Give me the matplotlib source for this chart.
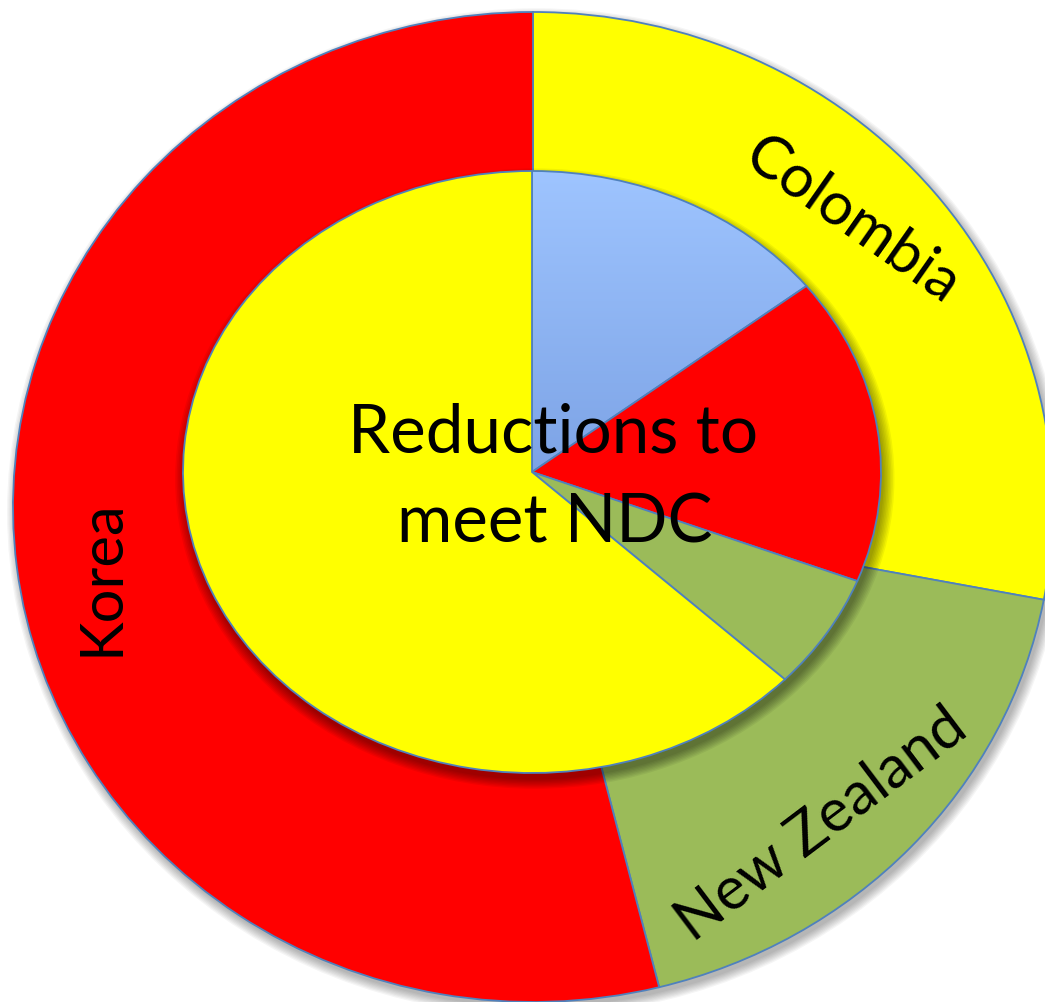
import numpy as np
import matplotlib.pyplot as plt
from matplotlib.patches import Ellipse

plt.rcParams['font.family'] = ['Lato', 'DejaVu Sans']

# outer ring: country shares
countries = ['Colombia', 'New Zealand', 'Korea']
country_share = [28.0, 18.1, 53.9]
country_colors = ['#FFFF00', '#9BBB59', '#FF0000']

# inner pie: reductions to meet NDC
inner_share = [14.4, 16.5, 6.2, 62.9]
inner_colors = ['#95BCF9', '#FF0000', '#9BBB59', '#FFFF00']

center_lines = ['Reductions to', 'meet NDC']

W, H = 1045, 1002
fig = plt.figure(figsize=(W / 100, H / 100), dpi=100)
fig.patch.set_facecolor('white')


def place(cx, cy, rx, ry, pad=1.08):
    # axes whose unit circle lands on the given pixel ellipse
    ax = fig.add_axes([(cx - rx * pad) / W, (H - cy - ry * pad) / H,
                       2 * rx * pad / W, 2 * ry * pad / H])
    ax.axis('off')
    ax.patch.set_alpha(0)
    return ax


def fix_limits(ax, pad=1.08):
    ax.set_xlim(-pad, pad)
    ax.set_ylim(-pad, pad)
    ax.set_aspect('auto')


def soft_shadow(ax, dx, dy, steps=8, spread=0.035, alpha=0.05):
    for i in range(steps):
        r = 1.0 + spread * i / steps
        ax.add_patch(Ellipse((dx, dy), 2 * r, 2 * r, color='black',
                             alpha=alpha, lw=0, zorder=0))


edge = dict(edgecolor='#4F81BD', linewidth=1.3)

# outer ring
ax_out = place(533, 507, 520, 495)
soft_shadow(ax_out, 0.006, -0.01, spread=0.02, alpha=0.04)
ax_out.pie(country_share, colors=country_colors, startangle=90,
           counterclock=False, radius=1, wedgeprops=edge)
fix_limits(ax_out)

label_pos = {'Colombia': (0.612, 0.580, -35),
             'New Zealand': (0.554, -0.642, 37),
             'Korea': (-0.829, -0.143, 90)}
for name in countries:
    x, y, rot = label_pos[name]
    ax_out.text(x, y, name, fontsize=43, rotation=rot, ha='center',
                va='center', rotation_mode='anchor', color='black', zorder=5)

# inner pie
ax_in = place(532, 472, 349, 301)
soft_shadow(ax_in, 0.008, -0.022, spread=0.035, alpha=0.055)
wedges, _ = ax_in.pie(inner_share, colors=inner_colors, startangle=90,
                      counterclock=False, radius=1, wedgeprops=edge)
fix_limits(ax_in)

# vertical gradient on the blue slice, drawn under its outline
blue = wedges[0]
grad = np.linspace(0, 1, 256).reshape(-1, 1)
light = np.array([0.62, 0.77, 1.0])
dark = np.array([0.49, 0.64, 0.90])
img = light[None, None, :] * (1 - grad[:, :, None]) + dark[None, None, :] * grad[:, :, None]
im = ax_in.imshow(img, extent=(0, 1, 0, 1), origin='upper',
                  aspect='auto', zorder=blue.get_zorder() - 0.01)
im.set_clip_path(blue)
blue.set_facecolor('none')
fix_limits(ax_in)

ax_in.text(0.06, 0.066, center_lines[0], fontsize=48.5, ha='center',
           va='baseline', zorder=6)
ax_in.text(0.066, -0.233, center_lines[1], fontsize=48.5, ha='center',
           va='baseline', zorder=6)

fig.savefig('out.png', dpi=100, facecolor='white')
